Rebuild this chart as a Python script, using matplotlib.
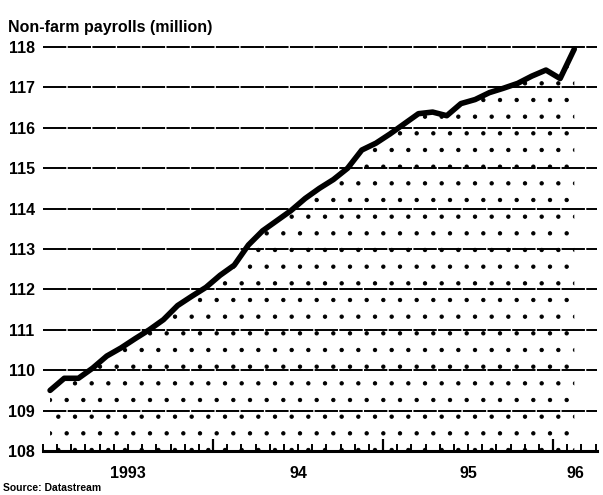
import numpy as np
import matplotlib
matplotlib.use("Agg")
import matplotlib.pyplot as plt

# US non-farm payrolls, monthly, Jan 1993 - Feb 1996 (million)
payrolls = [109.5, 109.8, 109.8, 110.05, 110.35, 110.55, 110.78, 111.0,
            111.25, 111.6, 111.83, 112.05,
            112.35, 112.6, 113.1, 113.45, 113.7, 113.95, 114.25, 114.5,
            114.72, 115.0, 115.45, 115.62,
            115.85, 116.1, 116.35, 116.39, 116.3, 116.6, 116.7, 116.87,
            116.98, 117.1, 117.28, 117.43,
            117.22, 117.95]
year_labels = ["1993", "94", "95", "96"]
y_ticks = list(range(108, 119))

plt.rcParams["font.family"] = ["Liberation Sans", "DejaVu Sans"]
plt.rcParams["hatch.linewidth"] = 0.7
plt.rcParams["hatch.color"] = "black"

months = np.arange(len(payrolls)) + 0.5   # plotted mid-month
x_end = 39.1

fig = plt.figure(figsize=(6.03, 4.95), dpi=100)
ax = fig.add_axes([0.0713, 0.0889, 0.9187, 0.8161])

# dashed horizontal rules
for v in y_ticks[1:]:
    ax.plot([0, x_end], [v, v], color="black", lw=1.4, dashes=(12, 0.7),
            dash_capstyle="butt", zorder=1, clip_on=False)

# stippled area under the line
ax.fill_between(months, 108, payrolls, facecolor="none", edgecolor="black",
                hatch=".", linewidth=0, zorder=2)

ax.plot(months, payrolls, color="black", lw=4, solid_capstyle="round",
        solid_joinstyle="round", zorder=3, clip_on=False)

ax.set_xlim(0, x_end)
ax.set_ylim(108, 118)

ax.set_yticks(y_ticks)
ax.set_yticklabels([str(v) for v in y_ticks], fontsize=11.5,
                   fontweight="bold")
ax.tick_params(axis="y", length=0, pad=6)

# monthly ticks with taller marks at year ends
ax.set_xticks(np.arange(0, 40), minor=True)
ax.set_xticks([12, 24, 36])
ax.set_xticklabels([])
ax.tick_params(axis="x", which="major", direction="in", length=9, width=1.6)
ax.tick_params(axis="x", which="minor", direction="in", length=5, width=1.4,
               color="black")

for pos, lab in zip([6, 18, 30, 37.6], year_labels):
    ax.text(pos, 107.62, lab, ha="center", va="top", fontsize=11.5,
            fontweight="bold")

for side in ["left", "right", "top"]:
    ax.spines[side].set_visible(False)
ax.spines["bottom"].set_linewidth(2.2)

fig.text(0.013, 0.944, "Non-farm payrolls (million)", fontsize=11.5,
         fontweight="bold", va="center", ha="left")
fig.text(0.005, 0.014, "Source: Datastream", fontsize=7.5,
         fontweight="bold", va="center", ha="left")

fig.savefig("out.png", dpi=100)
